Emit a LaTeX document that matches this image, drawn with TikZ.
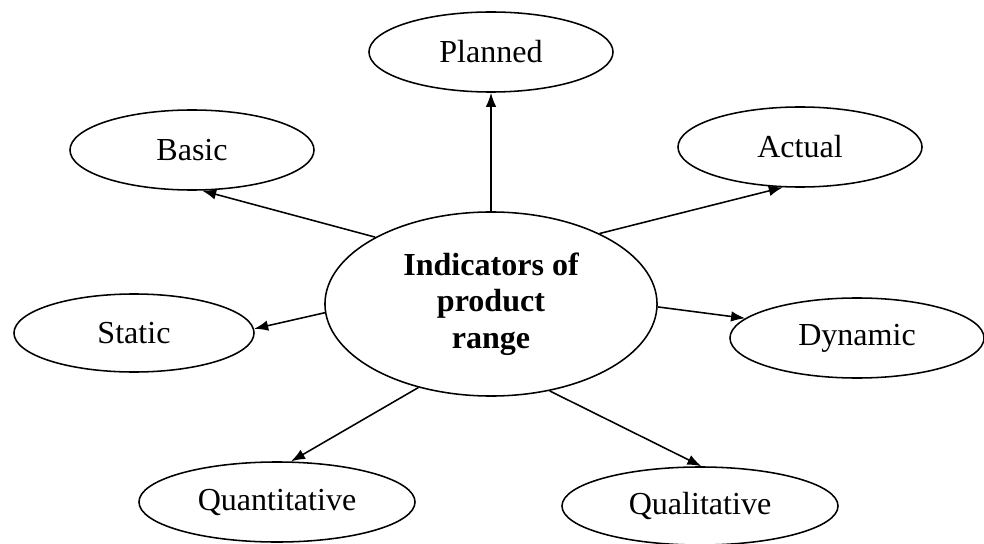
\documentclass[tikz,border=0pt]{standalone}
\usepackage{fontspec}
\setmainfont{Liberation Serif}
\usetikzlibrary{shapes.geometric,arrows.meta}
\begin{document}
\begin{tikzpicture}[x=0.025cm,y=-0.025cm,line width=1.1pt,
		kind/.style={draw,ellipse,inner sep=1pt,minimum width=6.1cm,minimum height=2cm,font=\fontsize{22.8pt}{25.6pt}\selectfont},
		hub/.style={kind,minimum width=8.3cm,minimum height=4.6cm,align=center,font=\fontsize{22.8pt}{25.9pt}\selectfont\bfseries},
		link/.style={-{Latex[length=10pt,width=7.5pt]}}]
			\useasboundingbox (0,0) rectangle (984,544);
			\node[hub] (hub) at (491,304) {Indicators of\\product\\range};
			
			\node[kind] (planned) at (491,52) {Planned};
			\node[kind] (basic) at (192,150) {Basic};
			\node[kind] (actual) at (800,147) {Actual};
			\node[kind,minimum width=6cm,minimum height=1.95cm] (static) at (134,333) {Static};
			\node[kind,minimum width=6.35cm] (dynamic) at (857,338) {Dynamic};
			\node[kind,minimum width=6.9cm] (quant) at (277,502) {Quantitative};
			\node[kind,minimum width=6.9cm,minimum height=1.95cm] (qual) at (700,506) {Qualitative};
			
			\draw[link] (hub.north) -- (planned.south);
			\draw[link] (hub.150) -- (basic.284);
			\draw[link] (hub.33) -- (actual.247);
			\draw[link] (hub.183) -- (static.2);
			\draw[link] (hub.359) -- (dynamic.170);
			\draw[link] (hub.229) -- (quant.71);
			\draw[link] (hub.304) -- (qual.88);
\end{tikzpicture}
\end{document}
